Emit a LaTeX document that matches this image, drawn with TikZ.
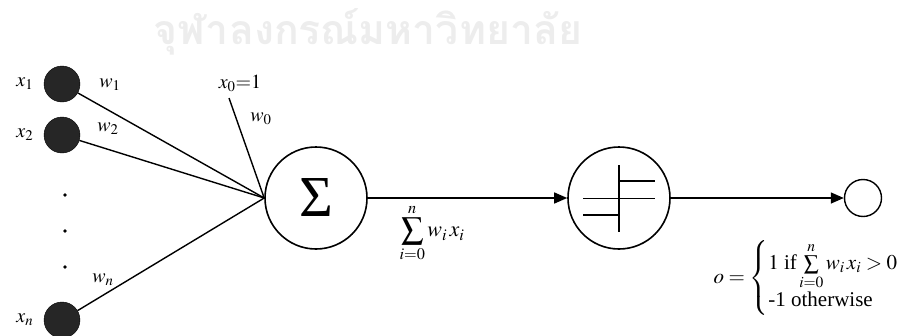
\documentclass[tikz,border=0pt]{standalone}
\usepackage{amsmath}
\usepackage{mathptmx}
\usepackage{fontspec}
\setmainfont{Liberation Serif}
\newfontfamily\thaifont[Script=Thai]{Loma}
\usetikzlibrary{arrows.meta,positioning}

\begin{document}
\begin{tikzpicture}[x=1pt, y=-1pt, >={Triangle[length=13pt,width=11pt]},
  every node/.style={font=\fontsize{20}{24}\selectfont},
  inp/.style={circle, fill=black!85, draw=black, minimum size=36pt, inner sep=0pt},
  unit/.style={circle, draw, line width=1.6pt, minimum size=102pt, inner sep=0pt},
  wire/.style={line width=1.4pt}]
  \useasboundingbox (0,0) rectangle (910,335);
  \node[text=black!7, font=\thaifont\bfseries\fontsize{41}{41}\selectfont] (mark) at (368,32) {จุฬาลงกรณ์มหาวิทยาลัย};
  % inputs
  \node[inp] (x1) at (62,84) {};
  \node[inp] (x2) at (62,135) {};
  \node[inp] (xn) at (62,320) {};
  \node[left=7pt of x1] (lx1) {$x_1$};
  \node[left=7pt of x2] (lx2) {$x_2$};
  \node[left=7pt of xn] (lxn) {$x_n$};
  \foreach \y in {195,231,267} \fill (65,\y) circle (1.8);
  % units
  \node[unit] (sum) at (316,198) {\fontsize{58}{58}\selectfont Σ};
  \node[unit] (thr) at (619,198) {};
  \node[circle, draw, line width=1.4pt, minimum size=37pt] (out) at (863,198) {};
  \coordinate (x0) at (229,98);
  \node (lx0) at (240,83) {$x_0{=}1$};
  \draw[wire] (x1) -- (sum.west);
  \draw[wire] (x2) -- (sum.west);
  \draw[wire] (xn) -- (sum.west);
  \draw[wire] (x0) -- (sum.west);
  \node (w1) at (110,85) {$w_1$};
  \node (w2) at (108,129) {$w_2$};
  \node (w0) at (261,119) {$w_0$};
  \node (wn) at (103,280) {$w_n$};
  \draw[wire,->] (sum) -- (thr);
  \draw[wire,->] (thr) -- (out);
  % step function
  \draw[line width=1.6pt] ([shift={(0,-33)}]thr.center) -- ([shift={(0,34)}]thr.center);
  \draw[line width=1.6pt] ([shift={(0,-17)}]thr.center) -- ([shift={(36,-17)}]thr.center);
  \draw[line width=1.6pt] ([shift={(-36,17)}]thr.center) -- ([shift={(0,17)}]thr.center);
  \draw[line width=0.9pt] ([shift={(-36,0)}]thr.center) -- ([shift={(36,0)}]thr.center);
  % labels
  \node[font=\fontsize{22}{26}\selectfont] (slab) at (432,233) {$\displaystyle\sum_{i=0}^{n} w_i\, x_i$};
  \node[font=\fontsize{21}{24}\selectfont] (olab) at (806,278)
    {$o=\left\{\begin{array}{@{}l@{}} 1\text{ if}\sum\limits_{i=0}^{n} w_i\, x_i > 0\\[3pt] \text{-1 otherwise}\end{array}\right.$};
\end{tikzpicture}
\end{document}
